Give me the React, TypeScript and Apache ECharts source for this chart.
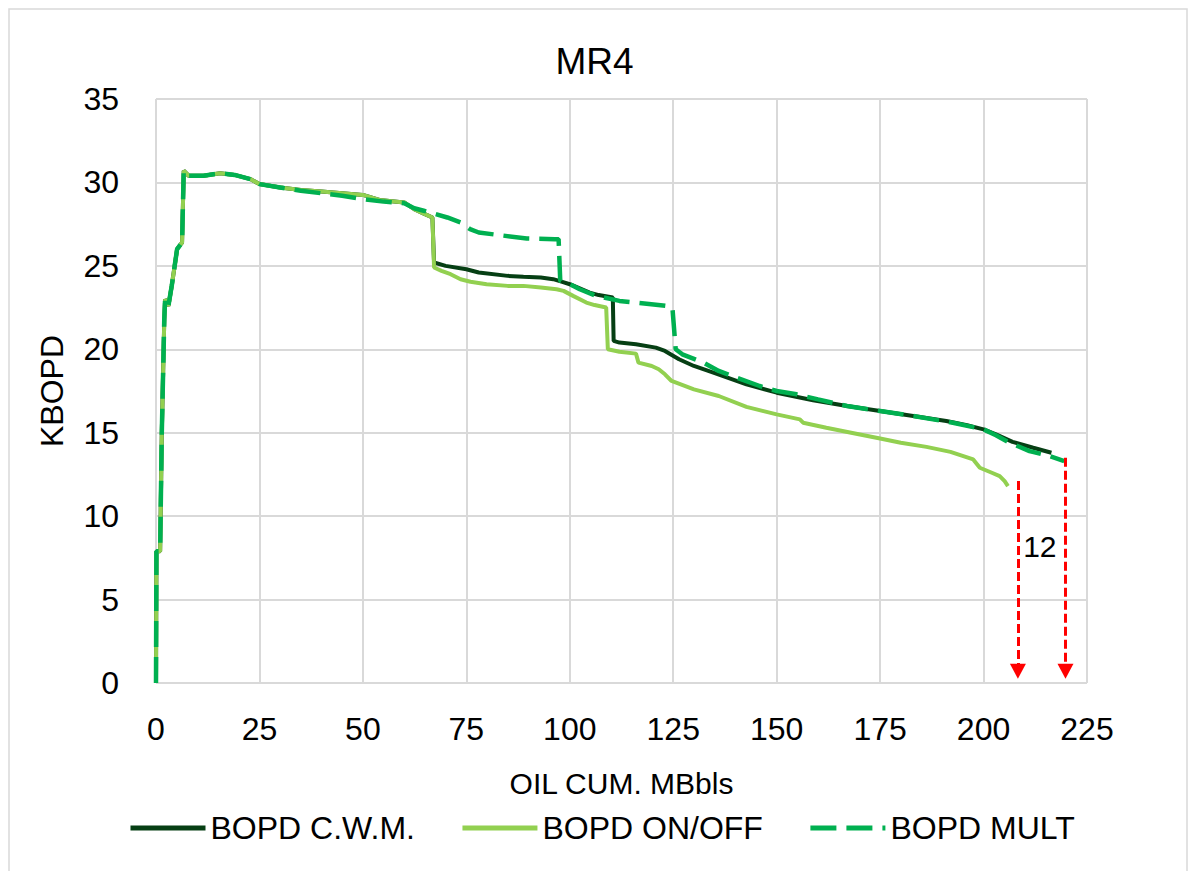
import React, { useEffect, useRef } from "react";
import * as echarts from "echarts";

// ---- data (x = OIL CUM. MBbls, y = KBOPD) ----
const earlyCommon: number[][] = [
  [0, 0], [0.1, 7.9], [1.0, 7.9], [1.4, 15.0], [1.8, 19.5], [2.0, 21.8], [2.2, 23.0],
  [3.0, 22.6], [3.8, 23.8], [5.1, 26.0], [6.3, 26.4], [6.7, 30.7], [7.9, 30.4],
  [11.5, 30.4], [15.5, 30.55], [19, 30.45], [22.8, 30.2], [25, 29.9], [30, 29.7],
  [35, 29.55], [40, 29.45], [45, 29.35], [50, 29.25], [54, 28.95], [60, 28.8],
  [62.4, 28.4], [65, 28.1], [66.8, 27.9],
];

const cwmTail: number[][] = [
  [67.2, 25.2], [70, 25.0], [75, 24.8], [78, 24.6], [85, 24.4], [88.8, 24.35],
  [93, 24.3], [96, 24.2], [98, 24.05], [100, 23.9], [102.4, 23.65], [104.8, 23.4],
  [107, 23.25], [110.4, 23.1], [110.6, 20.5], [112, 20.4], [116, 20.3], [120.8, 20.1],
  [123, 19.9], [126.4, 19.4], [130, 19.0], [134.7, 18.6], [142.7, 17.9], [150, 17.4],
  [158.8, 16.95], [167, 16.6], [175, 16.3], [183, 16.0], [191, 15.7], [196, 15.45],
  [200, 15.2], [203, 14.9], [207, 14.45], [212, 14.1], [216.4, 13.8],
];

const onOffTail: number[][] = [
  [67.2, 24.9], [69, 24.7], [71.2, 24.5], [73.6, 24.2], [76, 24.05], [79.9, 23.9],
  [85, 23.8], [88.8, 23.8], [93, 23.7], [96.8, 23.6], [98.5, 23.5], [100.8, 23.2],
  [104, 22.8], [106, 22.65], [108.8, 22.5], [109.2, 20.0], [112, 19.85], [116, 19.74],
  [116.6, 19.2], [119.8, 19.0], [121.5, 18.8], [123, 18.5], [124.6, 18.1], [130, 17.6],
  [136, 17.2], [142.7, 16.55], [150, 16.1], [155.6, 15.8], [156.4, 15.6], [162, 15.3],
  [168, 15.0], [175, 14.65], [180, 14.4], [186.2, 14.15], [192, 13.85], [197.5, 13.4],
  [199.1, 12.9], [202, 12.6], [203.9, 12.4], [205.1, 12.1], [205.9, 11.8],
];

const multEarly: number[][] = [
  [0, 0], [0.1, 7.9], [1.0, 7.9], [1.4, 15.0], [1.8, 19.5], [2.0, 21.8], [2.2, 23.0],
  [3.0, 22.6], [3.8, 23.8], [5.1, 26.0], [6.3, 26.4], [6.7, 30.7], [7.9, 30.4],
  [11.5, 30.4], [15.5, 30.55], [19, 30.45], [22.8, 30.2], [25, 29.9], [30, 29.7],
  [35, 29.5], [40, 29.35], [45, 29.2], [50, 29.0], [55, 28.85], [60, 28.75],
  [62.4, 28.45], [64.7, 28.3],
];

const multTail: number[][] = [
  [67, 28.15], [70.4, 27.9], [73.6, 27.6], [75.9, 27.2], [78, 27.0], [82.4, 26.86],
  [89.6, 26.64], [96.4, 26.6], [97.3, 26.6], [97.7, 24.1], [100, 23.9], [102.4, 23.6],
  [106.4, 23.2], [112, 22.9], [118, 22.75], [123.2, 22.6], [124.8, 22.5], [125.6, 20.0],
  [127.2, 19.7], [132.3, 19.2], [136, 18.7], [140.3, 18.3], [145.9, 17.8], [150, 17.5],
  [154.8, 17.3], [160, 17.0], [167, 16.6], [175, 16.3], [183, 16.0], [192.6, 15.6],
  [200, 15.2], [203, 14.85], [206.3, 14.4], [211.1, 13.9], [215.9, 13.6], [219.5, 13.3],
];

const seriesNames = ["BOPD C.W.M.", "BOPD ON/OFF", "BOPD MULT"];
const xTicks = [0, 225, 25]; // min, max, interval
const yTicks = [0, 35, 5];

// red arrows marking the difference at end of forecast
const arrowXs = [208.3, 219.8];
const arrowStartYs = [12.1, 13.5];
const arrowEndY = 0.7;
const diffLabel = "12";
const diffLabelPos = [213.6, 8.2];

const FONT = "Liberation Sans, Arial, sans-serif";

export default function App() {
  const ref = useRef<HTMLDivElement>(null);

  useEffect(() => {
    if (!ref.current) return;
    const chart = echarts.init(ref.current, null, { renderer: "svg" });

    const cwm = [...earlyCommon, ...cwmTail];
    const onoff = [...earlyCommon, ...onOffTail];
    const mult = [...multEarly, ...multTail];

    const option: any = {
      animation: false,
      backgroundColor: "#ffffff",
      textStyle: { fontFamily: FONT },
      title: {
        text: "MR4",
        left: "center",
        top: 38,
        textStyle: { fontFamily: FONT, fontSize: 37, fontWeight: "normal", color: "#000" },
      },
      graphic: [
        {
          type: "rect",
          shape: { x: 9, y: 9, width: 1178, height: 880 },
          style: { fill: "none", stroke: "#d9d9d9", lineWidth: 1.5 },
          silent: true,
        },
      ],
      grid: { left: 156, right: 102, top: 99, bottom: 188, containLabel: false },
      legend: {
        data: seriesNames,
        bottom: 22,
        left: 123,
        itemWidth: 75,
        itemHeight: 14,
        itemGap: 45,
        itemStyle: { opacity: 0 },
        lineStyle: { width: 5 },
        textStyle: { fontFamily: FONT, fontSize: 32, color: "#000" },
      },
      xAxis: {
        type: "value",
        min: xTicks[0],
        max: xTicks[1],
        interval: xTicks[2],
        name: "OIL CUM. MBbls",
        nameLocation: "middle",
        nameGap: 85,
        nameTextStyle: { fontFamily: FONT, fontSize: 30, color: "#000" },
        axisLine: { show: false },
        axisTick: { show: false },
        axisLabel: { fontFamily: FONT, fontSize: 32, color: "#000", margin: 30 },
        splitLine: { show: true, lineStyle: { color: "#d9d9d9", width: 2 } },
      },
      yAxis: {
        type: "value",
        min: yTicks[0],
        max: yTicks[1],
        interval: yTicks[2],
        name: "KBOPD",
        nameLocation: "middle",
        nameRotate: 90,
        nameGap: 88,
        nameTextStyle: { fontFamily: FONT, fontSize: 32, color: "#000" },
        axisLine: { show: false },
        axisTick: { show: false },
        axisLabel: { fontFamily: FONT, fontSize: 32, color: "#000", margin: 37 },
        splitLine: { show: true, lineStyle: { color: "#d9d9d9", width: 2 } },
      },
      series: [
        {
          name: seriesNames[0],
          type: "line",
          data: cwm,
          showSymbol: false,
          symbol: "none",
          color: "#063F14",
          lineStyle: { color: "#063F14", width: 4 },
          z: 2,
        },
        {
          name: seriesNames[1],
          type: "line",
          data: onoff,
          showSymbol: false,
          symbol: "none",
          color: "#92D050",
          lineStyle: { color: "#92D050", width: 4 },
          z: 3,
        },
        {
          name: seriesNames[2],
          type: "line",
          data: mult,
          showSymbol: false,
          symbol: "none",
          color: "#00B050",
          lineStyle: { color: "#00B050", width: 4.5, type: [26, 10] },
          z: 4,
        },
        {
          name: "arrows",
          type: "line",
          data: [],
          z: 5,
          markLine: {
            silent: true,
            symbol: ["none", "triangle"],
            symbolSize: [16, 15],
            label: { show: false },
            lineStyle: { color: "#FF0000", width: 3, type: [9, 4] },
            itemStyle: { color: "#FF0000" },
            emphasis: { disabled: true },
            data: arrowXs.map((x, i) => [
              { coord: [x, arrowStartYs[i]] },
              { coord: [x, arrowEndY] },
            ]),
          },
        },
        {
          name: "diff",
          type: "scatter",
          data: [diffLabelPos],
          symbolSize: 0,
          silent: true,
          z: 6,
          itemStyle: { opacity: 1 },
          label: {
            show: true,
            position: "inside",
            formatter: diffLabel,
            fontFamily: FONT,
            fontSize: 30,
            color: "#000",
            opacity: 1,
          },
        },
      ],
    };

    chart.setOption(option);
    return () => chart.dispose();
  }, []);

  return (
    <div
      ref={ref}
      style={{ position: "fixed", left: 0, top: 0, width: 1189, height: 871, background: "#fff" }}
    />
  );
}
